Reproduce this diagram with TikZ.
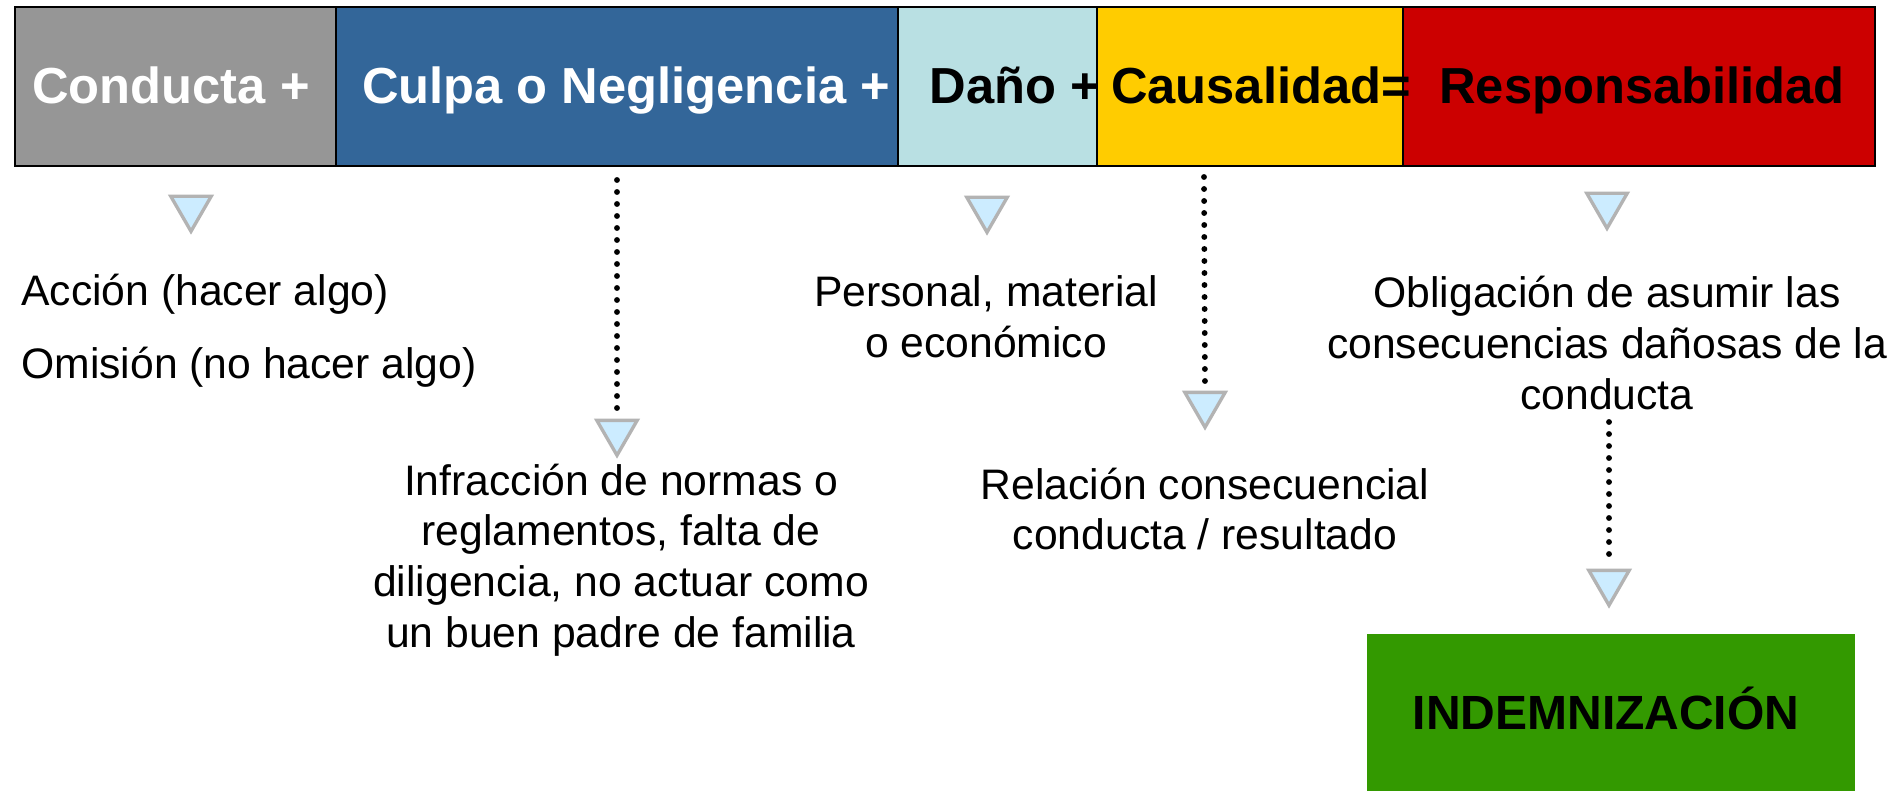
\documentclass[tikz,border=0pt]{standalone}
\usepackage{fontspec}
\setmainfont{Liberation Sans}
\usetikzlibrary{shapes.geometric}
\definecolor{cgray}{HTML}{969696}
\definecolor{cblue}{HTML}{336699}
\definecolor{clight}{HTML}{B9E0E3}
\definecolor{cyellow}{HTML}{FFCC00}
\definecolor{cred}{HTML}{CC0000}
\definecolor{cgreen}{HTML}{339900}
\definecolor{trifill}{HTML}{CCECFF}
\definecolor{triline}{HTML}{B3B3B3}
\begin{document}
\begin{tikzpicture}[x=0.75pt,y=-0.75pt,
  seg/.style={draw=black,line width=1.6pt,inner sep=0,outer sep=0,anchor=north west,minimum height=119.25pt},
  bartext/.style={font=\fontsize{38}{44}\selectfont\bfseries,inner sep=0,anchor=base},
  body/.style={font=\fontsize{32}{38}\selectfont,inner sep=0,align=center},
  tri/.style={regular polygon,regular polygon sides=3,shape border rotate=180,draw=triline,fill=trifill,line width=2.5pt,minimum size=35pt,inner sep=0,outer sep=0},
  dotline/.style={line width=4.4pt,line cap=round,dash pattern=on 0pt off 9pt}]
\useasboundingbox (0,0) rectangle (1901,791);

% top bar
\node[seg,fill=cgray,minimum width=240.75pt] (seg1) at (15,7) {};
\node[seg,fill=cblue,minimum width=421.5pt] (seg2) at (336,7) {};
\node[seg,fill=clight,minimum width=149.25pt] (seg3) at (898,7) {};
\node[seg,fill=cyellow,minimum width=229.5pt] (seg4) at (1097,7) {};
\node[seg,fill=cred,minimum width=354pt] (seg5) at (1403,7) {};

\node[bartext,text=white] (tConducta) at (171,104) {Conducta +};
\node[bartext,text=white] (tCulpa) at (626,104) {Culpa o Negligencia +};
\node[bartext] (tDano) at (1015,104) {Daño +};
\node[bartext] (tCausa) at (1261,104) {Causalidad=};
\node[bartext] (tResp) at (1642,104) {Responsabilidad};

% triangles
\node[tri] (t1) at (191,208) {};
\node[tri] (t2) at (617,432) {};
\node[tri] (t3) at (987,209) {};
\node[tri] (t4) at (1205,404) {};
\node[tri] (t5) at (1607,205) {};
\node[tri] (t6) at (1609,582) {};

% texts
\node[body,align=left,anchor=west] (accion) at (21,331) {Acción (hacer algo)\\[17pt]Omisión (no hacer algo)};
\node[body] (infra) at (621,560) {Infracción de normas o\\reglamentos, falta de\\diligencia, no actuar como\\un buen padre de familia};
\node[body] (personal) at (986,317) {Personal, material\\o económico};
\node[body] (relacion) at (1205,509) {Relación consecuencial\\conducta / resultado};
\node[body] (oblig) at (1607,343) {Obligación de asumir las\\consecuencias dañosas de la\\conducta};

% dotted connectors
\coordinate (d1) at (617,180);
\coordinate (d2) at (1204,177);
\coordinate (d3) at (1609,422);
\draw[dotline,shorten >=4pt] (d1) -- (t2.north);
\draw[dotline,shorten >=8pt] (d2) -- (t4.north);
\draw[dotline,shorten >=4pt] (d3) -- (t6.north);

% result box
\node[fill=cgreen,anchor=north west,minimum width=366pt,minimum height=117.75pt,inner sep=0,outer sep=0] (indem) at (1367,634) {};
\node[font=\fontsize{36}{42}\selectfont\bfseries,inner sep=0,anchor=base] (indemtxt) at (1606,729) {INDEMNIZACIÓN};
\end{tikzpicture}
\end{document}
